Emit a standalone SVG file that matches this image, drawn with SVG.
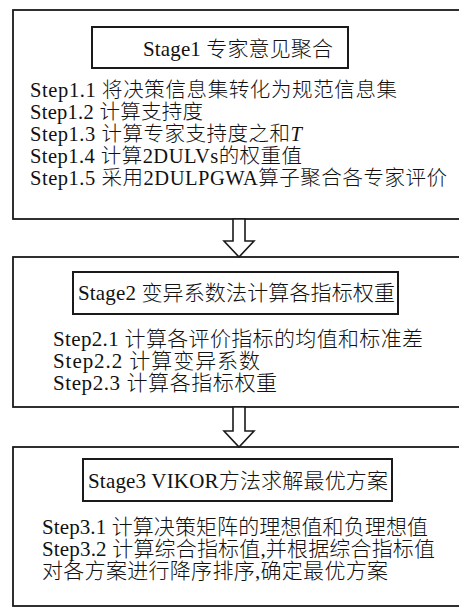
<svg xmlns="http://www.w3.org/2000/svg" width="459" height="608" viewBox="0 0 459 608">
<style>
.frame{fill:#fff;stroke:#1a1a1a;stroke-width:1.8}
.title{fill:#fff;stroke:#1a1a1a;stroke-width:2}
.arrow{fill:#fff;stroke:#1a1a1a;stroke-width:1.6;stroke-linejoin:miter}
text{font-family:"Liberation Serif","Noto Sans CJK SC",serif;font-weight:300;fill:#111}
.t{font-size:21px}
.s1{font-size:20.5px}
.s2{font-size:21px}
.s3{font-size:21px}
</style>
<rect width="459" height="608" fill="#fff"/>
<g id="stage1">
<rect class="frame" x="13" y="10" width="460" height="209"/>
<rect class="title" x="92" y="27" width="256" height="41"/>
<text class="t" x="143" y="56" textLength="190">Stage1 专家意见聚合</text>
<text class="s1" x="30" y="97" textLength="367">Step1.1 将决策信息集转化为规范信息集</text>
<text class="s1" x="30" y="119" textLength="173">Step1.2 计算支持度</text>
<text class="s1" x="30" y="141" textLength="272">Step1.3 计算专家支持度之和<tspan font-style="italic">T</tspan></text>
<text class="s1" x="30" y="163" textLength="272">Step1.4 计算2DULVs的权重值</text>
<text class="s1" x="30" y="185" textLength="417">Step1.5 采用2DULPGWA算子聚合各专家评价</text>
</g>
<g id="stage2">
<rect class="frame" x="13" y="257" width="460" height="150"/>
<rect class="title" x="73" y="272" width="325" height="42"/>
<text class="t" x="78" y="300" textLength="317">Stage2 变异系数法计算各指标权重</text>
<text class="s2" x="53" y="346" textLength="370">Step2.1 计算各评价指标的均值和标准差</text>
<text class="s2" x="53" y="368" textLength="207">Step2.2 计算变异系数</text>
<text class="s2" x="53" y="390" textLength="224">Step2.3 计算各指标权重</text>
</g>
<g id="stage3">
<rect class="frame" x="13" y="447" width="460" height="159"/>
<rect class="title" x="83" y="459" width="309" height="42"/>
<text class="t" x="88" y="488" textLength="300">Stage3 VIKOR方法求解最优方案</text>
<text class="s3" x="42" y="534" textLength="386">Step3.1 计算决策矩阵的理想值和负理想值</text>
<text class="s3" x="42" y="556" textLength="393">Step3.2 计算综合指标值,并根据综合指标值</text>
<text class="s3" x="42" y="578" textLength="346">对各方案进行降序排序,确定最优方案</text>
</g>
<g id="connectors">
<polygon class="arrow" points="233,219 233,241 224,241 239,257 254,241 245,241 245,219"/>
<polygon class="arrow" points="233,407 233,431 224,431 239,447 254,431 245,431 245,407"/>
</g>
</svg>
